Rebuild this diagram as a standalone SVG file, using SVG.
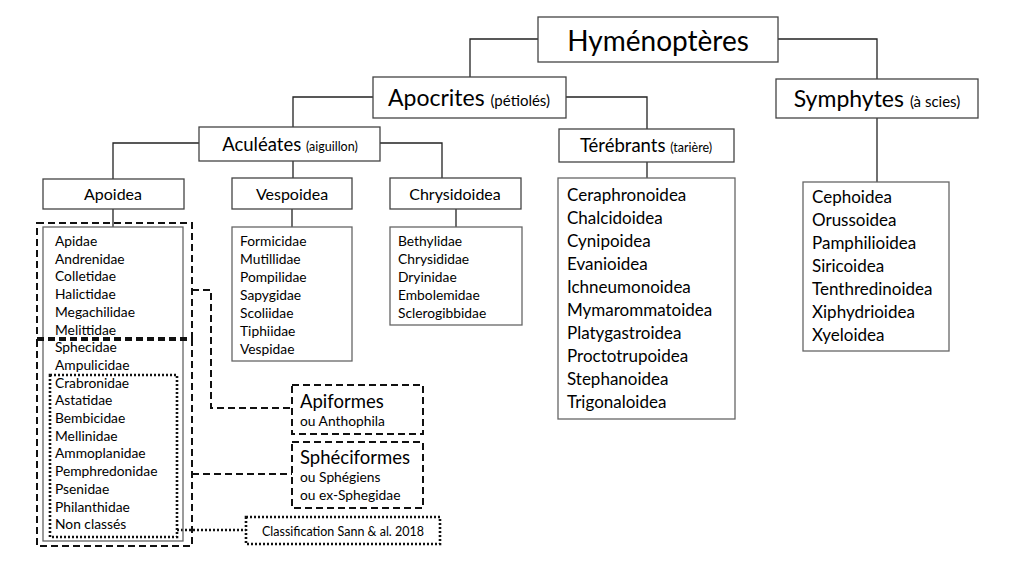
<svg xmlns="http://www.w3.org/2000/svg" width="1024" height="576" viewBox="0 0 1024 576">
<style>
text{font-family:Lato,"Open Sans","Liberation Sans",sans-serif;fill:#000}
.box{fill:#fff;stroke:#444;stroke-width:1.3}
.lst{fill:none;stroke:#666;stroke-width:1.3}
.dash{fill:none;stroke:#111;stroke-width:2;stroke-dasharray:7,4}
.dot{fill:none;stroke:#111;stroke-width:2.6;stroke-dasharray:2,2}
.ln{fill:none;stroke:#222;stroke-width:1.3}
.t30{font-size:28px}
.t24{font-size:23px}
.t19{font-size:18.5px}
.t17{font-size:16px}
.t16{font-size:15px}
.s13{font-size:12.5px}
.l17{font-size:17px}
.l14{font-size:13.8px}
</style>
<g id="connectors">
<polyline class="ln" points="538,39 470,39 470,77"/>
<polyline class="ln" points="778,39 877,39 877,79"/>
<polyline class="ln" points="373,97 293,97 293,127"/>
<polyline class="ln" points="566,97 647,97 647,129"/>
<line class="ln" x1="877" y1="118" x2="877" y2="182"/>
<line class="ln" x1="647" y1="162" x2="647" y2="178"/>
<polyline class="ln" points="199,143 113,143 113,179"/>
<line class="ln" x1="293" y1="161" x2="293" y2="178"/>
<polyline class="ln" points="380,143 442,143 442,178"/>
<line class="ln" x1="113" y1="209" x2="113" y2="227"/>
<line class="ln" x1="292" y1="209" x2="292" y2="227"/>
<line class="ln" x1="456" y1="209" x2="456" y2="227"/>
<polyline class="dash" points="192,290 211,290 211,408 292,408"/>
<polyline class="dash" points="192,474 292,474"/>
<polyline class="dot" points="177,530 246,530"/>
</g>
<g id="hymenopteres">
<rect class="box" x="538" y="17" width="240" height="45"/>
<text class="t30" x="658" y="51" text-anchor="middle">Hyménoptères</text>
</g>
<g id="apocrites">
<rect class="box" x="373" y="77" width="193" height="41"/>
<text x="469" y="106" text-anchor="middle"><tspan class="t24">Apocrites </tspan><tspan class="t16">(pétiolés)</tspan></text>
</g>
<g id="symphytes">
<rect class="box" x="776" y="79" width="202" height="39"/>
<text x="877" y="107" text-anchor="middle"><tspan class="t24">Symphytes </tspan><tspan class="t16">(à scies)</tspan></text>
</g>
<g id="aculeates">
<rect class="box" x="199" y="127" width="181" height="34"/>
<text x="290" y="151" text-anchor="middle"><tspan class="t19">Aculéates </tspan><tspan class="s13">(aiguillon)</tspan></text>
</g>
<g id="terebrants">
<rect class="box" x="559" y="129" width="175" height="33"/>
<text x="646" y="152" text-anchor="middle"><tspan class="t19">Térébrants </tspan><tspan class="s13">(tarière)</tspan></text>
</g>
<g id="apoidea">
<rect class="box" x="43" y="179" width="141" height="30"/>
<text class="t17" x="113" y="200" text-anchor="middle">Apoidea</text>
</g>
<g id="vespoidea">
<rect class="box" x="232" y="178" width="120" height="31"/>
<text class="t17" x="292" y="200" text-anchor="middle">Vespoidea</text>
</g>
<g id="chrysidoidea">
<rect class="box" x="390" y="178" width="131" height="31"/>
<text class="t17" x="455" y="200" text-anchor="middle">Chrysidoidea</text>
</g>
<g id="apoidea-list">
<rect class="lst" x="43" y="227" width="140" height="314"/>
<text class="l14" x="55">
<tspan x="55" y="246">Apidae</tspan>
<tspan x="55" y="263.7">Andrenidae</tspan>
<tspan x="55" y="281.4">Colletidae</tspan>
<tspan x="55" y="299.1">Halictidae</tspan>
<tspan x="55" y="316.8">Megachilidae</tspan>
<tspan x="55" y="334.5">Melittidae</tspan>
<tspan x="55" y="352.2">Sphecidae</tspan>
<tspan x="55" y="369.9">Ampulicidae</tspan>
<tspan x="55" y="387.6">Crabronidae</tspan>
<tspan x="55" y="405.3">Astatidae</tspan>
<tspan x="55" y="423">Bembicidae</tspan>
<tspan x="55" y="440.7">Mellinidae</tspan>
<tspan x="55" y="458.4">Ammoplanidae</tspan>
<tspan x="55" y="476.1">Pemphredonidae</tspan>
<tspan x="55" y="493.8">Psenidae</tspan>
<tspan x="55" y="511.5">Philanthidae</tspan>
<tspan x="55" y="529.2">Non classés</tspan>
</text>
<rect class="dash" x="37" y="223" width="155" height="115"/>
<rect class="dash" x="37" y="340" width="155" height="206"/>
<rect class="dot" x="50" y="375" width="127" height="162"/>
</g>
<g id="vespoidea-list">
<rect class="lst" x="232" y="227" width="120" height="134"/>
<text class="l14" x="240">
<tspan x="240" y="246">Formicidae</tspan>
<tspan x="240" y="264">Mutillidae</tspan>
<tspan x="240" y="282">Pompilidae</tspan>
<tspan x="240" y="300">Sapygidae</tspan>
<tspan x="240" y="318">Scoliidae</tspan>
<tspan x="240" y="336">Tiphiidae</tspan>
<tspan x="240" y="354">Vespidae</tspan>
</text>
</g>
<g id="chrysidoidea-list">
<rect class="lst" x="390" y="227" width="132" height="98"/>
<text class="l14" x="398">
<tspan x="398" y="246">Bethylidae</tspan>
<tspan x="398" y="264">Chrysididae</tspan>
<tspan x="398" y="282">Dryinidae</tspan>
<tspan x="398" y="300">Embolemidae</tspan>
<tspan x="398" y="318">Sclerogibbidae</tspan>
</text>
</g>
<g id="terebrants-list">
<rect class="lst" x="558" y="178" width="177" height="241"/>
<text class="l17" x="567">
<tspan x="567" y="201">Ceraphronoidea</tspan>
<tspan x="567" y="224">Chalcidoidea</tspan>
<tspan x="567" y="247">Cynipoidea</tspan>
<tspan x="567" y="270">Evanioidea</tspan>
<tspan x="567" y="293">Ichneumonoidea</tspan>
<tspan x="567" y="316">Mymarommatoidea</tspan>
<tspan x="567" y="339">Platygastroidea</tspan>
<tspan x="567" y="362">Proctotrupoidea</tspan>
<tspan x="567" y="385">Stephanoidea</tspan>
<tspan x="567" y="408">Trigonaloidea</tspan>
</text>
</g>
<g id="symphytes-list">
<rect class="lst" x="803" y="182" width="146" height="169"/>
<text class="l17" x="812">
<tspan x="812" y="203">Cephoidea</tspan>
<tspan x="812" y="226">Orussoidea</tspan>
<tspan x="812" y="249">Pamphilioidea</tspan>
<tspan x="812" y="272">Siricoidea</tspan>
<tspan x="812" y="295">Tenthredinoidea</tspan>
<tspan x="812" y="318">Xiphydrioidea</tspan>
<tspan x="812" y="341">Xyeloidea</tspan>
</text>
</g>
<g id="apiformes">
<rect class="dash" x="292" y="385" width="131" height="49"/>
<text class="t19" x="300" y="408">Apiformes</text>
<text class="l14" x="300" y="426">ou Anthophila</text>
</g>
<g id="spheciformes">
<rect class="dash" x="292" y="442" width="131" height="66"/>
<text class="t19" x="300" y="464">Sphéciformes</text>
<text class="l14" x="300" y="482">ou Sphégiens</text>
<text class="l14" x="300" y="500">ou ex-Sphegidae</text>
</g>
<g id="classification">
<rect class="dot" x="246" y="517" width="194" height="27"/>
<text class="s13" x="343" y="535.5" text-anchor="middle">Classification Sann &amp; al. 2018</text>
</g>
</svg>
